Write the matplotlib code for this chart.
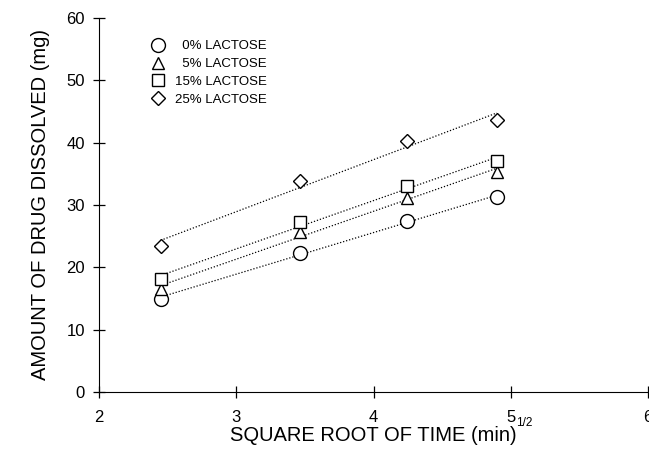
import numpy as np
import matplotlib.pyplot as plt
from matplotlib.lines import Line2D

# square root of time (min^1/2)
sqrt_time = [2.449, 3.464, 4.243, 4.899]

lactose_0 = [15.0, 22.3, 27.4, 31.3]
lactose_5 = [16.5, 25.7, 31.2, 35.3]
lactose_15 = [18.2, 27.2, 33.0, 37.1]
lactose_25 = [23.5, 33.8, 40.2, 43.7]

labels = ['  0% LACTOSE', '  5% LACTOSE', '15% LACTOSE', '25% LACTOSE']
markers = ['o', '^', 's', 'D']
x_ticks = [2, 3, 4, 5, 6]
y_ticks = [0, 10, 20, 30, 40, 50, 60]

plt.rcParams['font.family'] = ['Liberation Sans', 'DejaVu Sans']

fig = plt.figure(figsize=(6.49, 4.51), dpi=100)
ax = fig.add_axes([99 / 649, 59 / 451, 549 / 649, 374 / 451])

series = [lactose_0, lactose_5, lactose_15, lactose_25]
sizes = {'o': 10, '^': 9, 's': 9, 'D': 7.5}
x = np.array(sqrt_time)
handles = []
for vals, m, lab in zip(series, markers, labels):
    # dotted least-squares line through each series
    slope, icpt = np.polyfit(x, vals, 1)
    ax.plot(x, slope * x + icpt, color='black', linestyle=(0, (1, 1.5)), linewidth=0.9)
    ax.plot(x, vals, linestyle='none', marker=m, markersize=sizes[m], markerfacecolor='white',
            markeredgecolor='black', markeredgewidth=1.0)
    handles.append(Line2D([], [], linestyle='none', marker=m, markersize=sizes[m],
                          markerfacecolor='white', markeredgecolor='black',
                          markeredgewidth=1.0, label=lab))

ax.set_xlim(2, 6)
ax.set_ylim(0, 60)
ax.set_xticks(x_ticks)
ax.set_yticks(y_ticks)
ax.set_xticklabels([str(t) for t in x_ticks])
ax.spines['top'].set_visible(False)
ax.spines['right'].set_visible(False)
ax.tick_params(direction='inout', length=8, width=0.9, labelsize=12)
ax.tick_params(axis='x', pad=9)
ax.tick_params(axis='y', pad=6)
ax.text(5.035, -0.068, '1/2', transform=ax.get_xaxis_transform(), fontsize=8.5,
        ha='left', va='top')

ax.set_xlabel('SQUARE ROOT OF TIME (min)', fontsize=14.5, labelpad=1)
ax.set_ylabel('AMOUNT OF DRUG DISSOLVED (mg)', fontsize=14.5, labelpad=12)

leg = ax.legend(handles=handles, loc='upper left', bbox_to_anchor=(0.085, 0.955),
                frameon=False, fontsize=9.5, handlelength=1.0, handletextpad=0.8,
                labelspacing=0.42, borderaxespad=0)

fig.savefig('out.png', dpi=100)
